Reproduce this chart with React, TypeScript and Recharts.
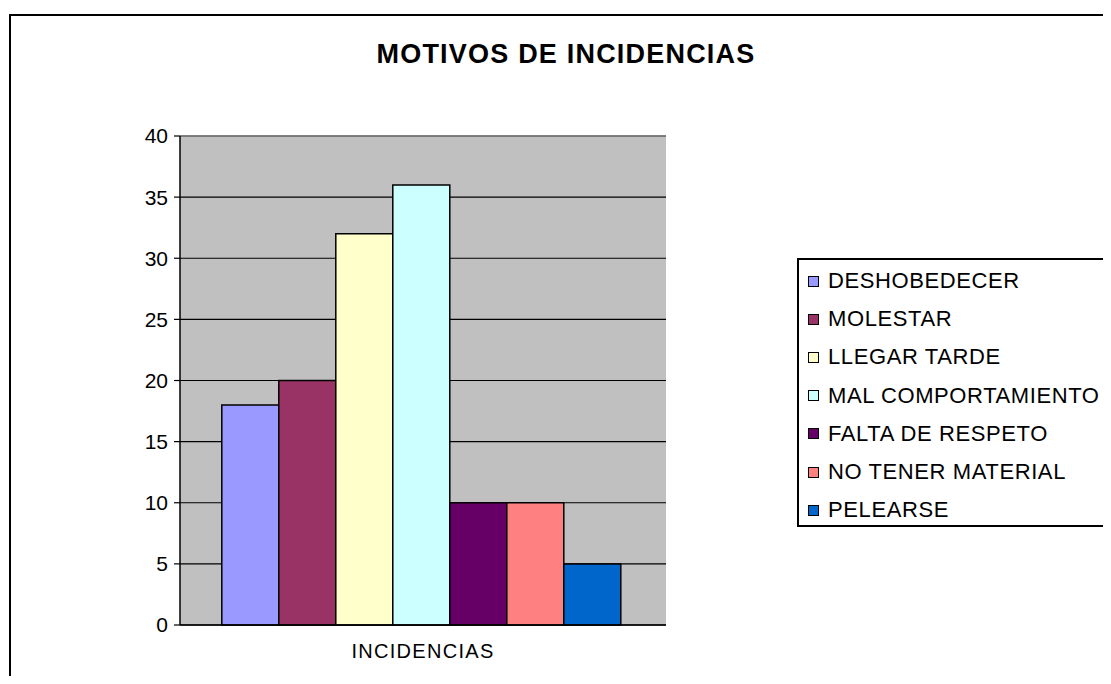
import React from 'react';
import { BarChart, Bar, XAxis, YAxis, CartesianGrid, ReferenceLine, Legend } from 'recharts';

const categories = ['INCIDENCIAS'];
const seriesNames = [
  'DESHOBEDECER',
  'MOLESTAR',
  'LLEGAR TARDE',
  'MAL COMPORTAMIENTO',
  'FALTA DE RESPETO',
  'NO TENER MATERIAL',
  'PELEARSE',
];
const seriesValues = [18, 20, 32, 36, 10, 10, 5];
const seriesColors = ['#9999FF', '#993366', '#FFFFCC', '#CCFFFF', '#660066', '#FF8080', '#0066CC'];
const yTicks = [0, 5, 10, 15, 20, 25, 30, 35, 40];
const title = 'MOTIVOS DE INCIDENCIAS';

const data = categories.map((c) => {
  const row: Record<string, string | number> = { name: c };
  seriesNames.forEach((s, i) => {
    row[s] = seriesValues[i];
  });
  return row;
});

const FONT = '"Liberation Sans", Arial, sans-serif';

const LegendBox = () => (
  <div
    style={{
      boxSizing: 'border-box',
      width: 330,
      height: 269,
      border: '2px solid #000',
      background: '#fff',
      paddingTop: 2,
      fontFamily: FONT,
    }}
  >
    {seriesNames.map((s, i) => (
      <div
        key={s}
        style={{
          height: 38.2,
          lineHeight: '38.2px',
          fontSize: 22,
          letterSpacing: 0.6,
          color: '#000',
          whiteSpace: 'nowrap',
          display: 'flex',
          alignItems: 'center',
        }}
      >
        <span
          style={{
            display: 'inline-block',
            boxSizing: 'border-box',
            width: 11,
            height: 11,
            marginLeft: 9,
            marginRight: 9,
            background: seriesColors[i],
            border: '1.5px solid #000',
          }}
        />
        <span>{s}</span>
      </div>
    ))}
  </div>
);

export default function App() {
  return (
    <div
      style={{
        position: 'relative',
        width: 1111,
        height: 684,
        margin: -8,
        overflow: 'hidden',
        background: '#fff',
        fontFamily: FONT,
      }}
    >
      <div
        style={{
          position: 'absolute',
          left: 9,
          top: 14,
          width: 1200,
          height: 800,
          border: '2px solid #000',
        }}
      />
      <div
        style={{
          position: 'absolute',
          left: 0,
          width: 1132,
          top: 41,
          textAlign: 'center',
          fontSize: 27,
          lineHeight: '27px',
          fontWeight: 'bold',
          letterSpacing: 1.2,
          color: '#000',
          whiteSpace: 'nowrap',
        }}
      >
        {title}
      </div>
      <div style={{ position: 'absolute', left: 0, top: 0 }}>
        <BarChart
          width={1111}
          height={684}
          data={data}
          margin={{ top: 136, right: 445, bottom: 0, left: 120 }}
          barCategoryGap="8.6%"
          barGap={0}
        >
          <CartesianGrid vertical={false} stroke="#000" strokeWidth={1.2} fill="#C0C0C0" fillOpacity={1} />
          <XAxis
            dataKey="name"
            height={59}
            tickLine={false}
            tickSize={0}
            tickMargin={19}
            axisLine={{ stroke: '#000', strokeWidth: 1.5 }}
            tick={{ fontSize: 20, fill: '#000', fontFamily: FONT, letterSpacing: 1.3 }}
          />
          <YAxis
            width={60}
            domain={[0, 40]}
            ticks={yTicks}
            interval={0}
            tickSize={6}
            tickMargin={6}
            tickLine={{ stroke: '#000', strokeWidth: 1.2 }}
            axisLine={{ stroke: '#000', strokeWidth: 1.5 }}
            tick={{ fontSize: 21, fill: '#000', fontFamily: FONT }}
          />
          <YAxis
            yAxisId="right"
            orientation="right"
            width={0}
            domain={[0, 40]}
            tick={false}
            tickLine={false}
            axisLine={{ stroke: '#808080', strokeWidth: 1.5 }}
          />
          <ReferenceLine y={40} stroke="#808080" strokeWidth={1.5} />
          <Legend
            layout="vertical"
            align="center"
            verticalAlign="middle"
            wrapperStyle={{ left: 797, top: 258, width: 330, height: 269 }}
            content={() => <LegendBox />}
          />
          {seriesNames.map((s, i) => (
            <Bar
              key={s}
              dataKey={s}
              fill={seriesColors[i]}
              stroke="#000"
              strokeWidth={1.5}
              isAnimationActive={false}
            />
          ))}
        </BarChart>
      </div>
    </div>
  );
}
